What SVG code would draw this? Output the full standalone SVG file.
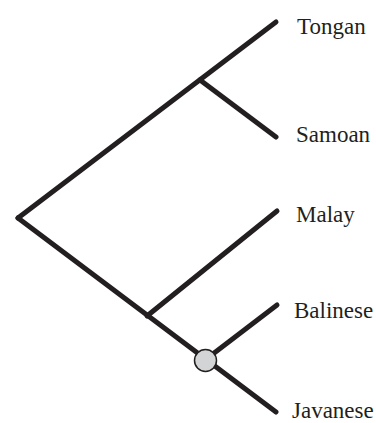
<svg xmlns="http://www.w3.org/2000/svg" width="376" height="423" viewBox="0 0 376 423">
<style>
.e{stroke:#231f20;stroke-width:5;stroke-linecap:round;fill:none}
.t{font-family:"Liberation Serif","Times New Roman",serif;font-size:23px;fill:#231f20}
.n{fill:#d3d4d5;stroke:#231f20;stroke-width:1.5}
</style>
<rect width="376" height="423" fill="#fff"/>
<g id="connectors">
<line class="e" x1="18" y1="218" x2="276" y2="22"/>
<line class="e" x1="200" y1="80" x2="276" y2="137"/>
<line class="e" x1="18" y1="218" x2="276" y2="412"/>
<line class="e" x1="147" y1="316" x2="277" y2="211"/>
<line class="e" x1="205" y1="360" x2="277" y2="305"/>
</g>
<g id="node-anc"><circle class="n" cx="205.5" cy="360.5" r="11"/></g>
<g id="node-tongan"><text class="t" x="297" y="34">Tongan</text></g>
<g id="node-samoan"><text class="t" x="296" y="142">Samoan</text></g>
<g id="node-malay"><text class="t" x="296" y="222">Malay</text></g>
<g id="node-balinese"><text class="t" x="294" y="318">Balinese</text></g>
<g id="node-javanese"><text class="t" x="292" y="418">Javanese</text></g>
</svg>
